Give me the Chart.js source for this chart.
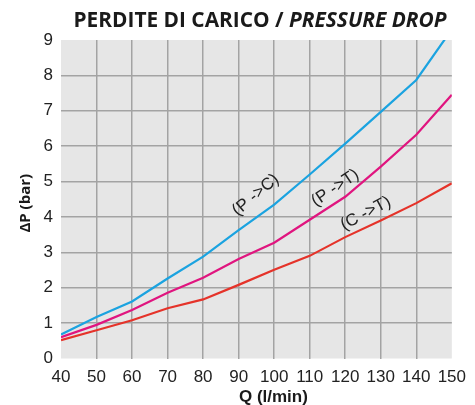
<!DOCTYPE html>
<html>
<head>
<meta charset="utf-8">
<script src="https://cdn.jsdelivr.net/npm/chart.js@4/dist/chart.umd.min.js"></script>
<style>
  html, body { margin: 0; padding: 0; background: #fff; }
  #wrap { width: 475px; height: 405px; }
</style>
</head>
<body>
<div id="wrap"><canvas id="pressureChart"></canvas></div>
<script>
// Portata (l/min) e perdite di carico (bar)
const flowRates = [40, 50, 60, 70, 80, 90, 100, 110, 120, 130, 140, 150];
const dropPtoC = [0.68, 1.17, 1.61, 2.26, 2.88, 3.63, 4.35, 5.2, 6.07, 6.97, 7.87, 9.3];
const dropPtoT = [0.6, 0.95, 1.37, 1.86, 2.28, 2.81, 3.27, 3.92, 4.57, 5.42, 6.32, 7.45];
const dropCtoT = [0.52, 0.8, 1.08, 1.42, 1.67, 2.08, 2.51, 2.9, 3.43, 3.9, 4.39, 4.95];
const seriesNames = ['(P ->C)', '(P ->T)', '(C ->T)'];

const xTicks = { min: 40, max: 150, step: 10 };
const yTicks = { min: 0, max: 9, step: 1 };

// posizione delle etichette sulle curve (coordinate dati) e inclinazione
const labelPlacement = [
  { x: 94.8, y: 4.62, angle: -40 },
  { x: 117.2, y: 4.82, angle: -34 },
  { x: 125.8, y: 4.1, angle: -28 }
];

const colors = ['#1ba3e0', '#e0157f', '#e5332a'];
const narrow = '"Liberation Sans Narrow", "Liberation Sans"';

function toPoints(values) {
  return values.map((v, i) => ({ x: flowRates[i], y: v }));
}

const plotBackground = {
  id: 'plotBackground',
  beforeDraw(chart) {
    const { ctx, chartArea: a } = chart;
    ctx.save();
    ctx.fillStyle = '#ffffff';
    ctx.fillRect(0, 0, chart.width, chart.height);
    ctx.fillStyle = '#e6e6e6';
    ctx.fillRect(a.left, a.top, a.right - a.left, a.bottom - a.top);
    ctx.restore();
  }
};

const chartTexts = {
  id: 'chartTexts',
  afterDraw(chart) {
    const { ctx, chartArea: a, scales } = chart;
    ctx.save();
    ctx.fillStyle = '#1a1a1a';
    ctx.textBaseline = 'alphabetic';

    // titolo: parte normale + parte in corsivo
    const part1 = 'PERDITE DI CARICO / ';
    const part2 = 'PRESSURE DROP';
    let size = 17;
    ctx.font = `bold ${size}px "Open Sans"`;
    let w1 = ctx.measureText(part1).width;
    ctx.font = `italic bold ${size}px "Open Sans"`;
    let w2 = ctx.measureText(part2).width;
    size = size * 373 / (w1 + w2);
    ctx.font = `bold ${size}px "Open Sans"`;
    w1 = ctx.measureText(part1).width;
    ctx.font = `italic bold ${size}px "Open Sans"`;
    w2 = ctx.measureText(part2).width;
    const startX = 260 - (w1 + w2) / 2;
    ctx.textAlign = 'left';
    ctx.font = `bold ${size}px "Open Sans"`;
    ctx.fillText(part1, startX, 27);
    ctx.font = `italic bold ${size}px "Open Sans"`;
    ctx.fillText(part2, startX + w1, 27);

    // titoli degli assi
    ctx.textAlign = 'center';
    ctx.textBaseline = 'middle';
    ctx.font = `bold 17px ${narrow}`;
    ctx.fillText('Q (l/min)', (a.left + a.right) / 2 + 17, 397);
    ctx.save();
    ctx.translate(26, (a.top + a.bottom) / 2 + 4);
    ctx.rotate(-Math.PI / 2);
    ctx.font = 'bold 15px "Open Sans"';
    ctx.fillText('\u0394P (bar)', 0, 0);
    ctx.restore();

    // etichette delle curve
    ctx.font = `17px ${narrow}`;
    ctx.fillStyle = '#222';
    seriesNames.forEach((name, i) => {
      const p = labelPlacement[i];
      const px = scales.x.getPixelForValue(p.x);
      const py = scales.y.getPixelForValue(p.y);
      ctx.save();
      ctx.translate(px, py);
      ctx.rotate(p.angle * Math.PI / 180);
      ctx.fillText(name, 0, 0);
      ctx.restore();
    });
    ctx.restore();
  }
};

function gridColor(min, max) {
  return (c) => (c.tick && (c.tick.value === min || c.tick.value === max)) ? 'rgba(0,0,0,0)' : '#a3a3a3';
}

const datasets = [dropPtoC, dropPtoT, dropCtoT].map((values, i) => ({
  label: seriesNames[i],
  data: toPoints(values),
  borderColor: colors[i],
  borderWidth: 2.2,
  pointRadius: 0,
  tension: 0,
  fill: false,
  clip: 0
}));

new Chart(document.getElementById('pressureChart'), {
  type: 'line',
  data: { datasets },
  options: {
    responsive: true,
    maintainAspectRatio: false,
    animation: false,
    layout: { padding: { top: 40, right: 23, bottom: 0, left: 0 } },
    plugins: {
      legend: { display: false },
      tooltip: { enabled: false }
    },
    scales: {
      x: {
        type: 'linear',
        min: xTicks.min,
        max: xTicks.max,
        afterFit(scale) { scale.height = 46.5; },
        ticks: {
          stepSize: xTicks.step,
          padding: 9,
          color: '#222',
          font: { family: '"Liberation Sans"', size: 17 }
        },
        grid: { color: gridColor(xTicks.min, xTicks.max), lineWidth: 1.5, drawTicks: false },
        border: { display: false }
      },
      y: {
        min: yTicks.min,
        max: yTicks.max,
        afterFit(scale) { scale.width = 61; },
        ticks: {
          stepSize: yTicks.step,
          padding: 8,
          color: '#222',
          font: { family: '"Liberation Sans"', size: 17 }
        },
        grid: { color: gridColor(yTicks.min, yTicks.max), lineWidth: 1.5, drawTicks: false },
        border: { display: false }
      }
    }
  },
  plugins: [plotBackground, chartTexts]
});
</script>
</body>
</html>
